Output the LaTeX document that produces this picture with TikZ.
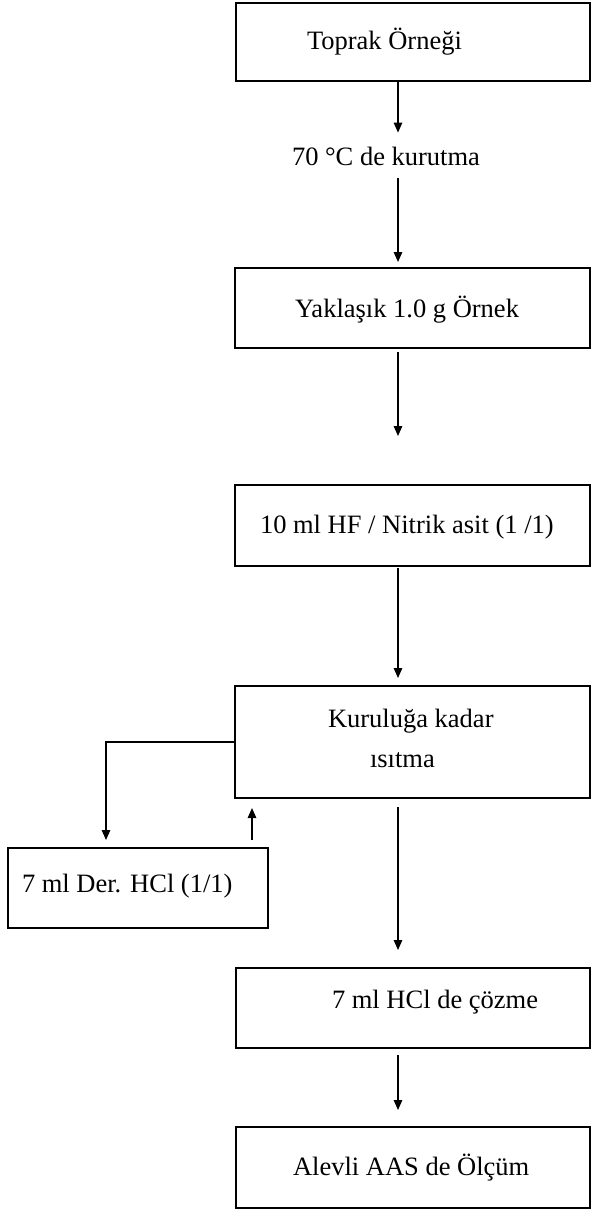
\documentclass[tikz,border=0pt]{standalone}
\usepackage{fontspec}
\setmainfont{Liberation Serif}
\usetikzlibrary{arrows.meta}
\begin{document}
\begin{tikzpicture}[x=1pt,y=-1pt,
  box/.style={draw, line width=1.8pt, inner sep=0pt, outer sep=0pt},
  txt/.style={anchor=base west, inner sep=0pt, outer sep=0pt, font=\fontsize{26.5}{31}\selectfont},
  arr/.style={line width=1.4pt, -{Triangle[length=10pt,width=8.5pt]}}]
\useasboundingbox (0,0) rectangle (591,1211);
% named helper coordinates
\coordinate (ax) at (398,0);
\coordinate (lx) at (106,0);
\coordinate (ux) at (252,0);
% boxes
\node[box, minimum width=354pt, minimum height=78pt] (b1) at (413,42) {};
\node[box, minimum width=355pt, minimum height=80pt] (b2) at (412.5,308) {};
\node[box, minimum width=355pt, minimum height=81pt] (b3) at (412.5,525.5) {};
\node[box, minimum width=355pt, minimum height=112pt] (b4) at (412.5,742) {};
\node[box, minimum width=260pt, minimum height=80pt] (b5) at (138,888) {};
\node[box, minimum width=354pt, minimum height=80pt] (b6) at (413,1008) {};
\node[box, minimum width=354pt, minimum height=81pt] (b7) at (413,1167.5) {};
% texts
\node[txt] (t1) at (307,49) {Toprak Örneği};
\node[txt] (t70) at (292,165) {70 °C de kurutma};
\node[txt] (t2) at (295,317) {Yaklaşık 1.0 g Örnek};
\node[txt] (t3) at (260,533) {10 ml HF / Nitrik asit (1 /1)};
\node[txt] (t4a) at (328,727) {Kuruluğa kadar};
\node[txt] (t4b) at (370,767) {ısıtma};
\node[txt] (t5) at (22,892) {7 ml Der. HCl (1/1)};
\node[txt] (t6) at (332,1008) {7 ml HCl de çözme};
\node[txt] (t7) at (293,1175) {Alevli AAS de Ölçüm};
% connectors
\draw[arr, shorten >=14pt] (ax |- b1.south) -- (ax |- t70.north);
\draw[arr, shorten <=13pt, shorten >=6pt] (ax |- t70.south) -- (ax |- b2.north);
\draw[arr, shorten <=4pt, shorten >=49pt] (ax |- b2.south) -- (ax |- b3.north);
\draw[arr, shorten <=2pt, shorten >=8pt] (ax |- b3.south) -- (ax |- b4.north);
\draw[arr, shorten <=9pt, shorten >=18pt] (ax |- b4.south) -- (ax |- b6.north);
\draw[arr, shorten <=7pt, shorten >=17pt] (ax |- b6.south) -- (ax |- b7.north);
\draw[arr, shorten >=8pt] (b4.west) -| (lx |- b5.north);
\draw[arr, shorten <=8pt, shorten >=10pt] (ux |- b5.north) -- (ux |- b4.south);
\end{tikzpicture}
\end{document}
